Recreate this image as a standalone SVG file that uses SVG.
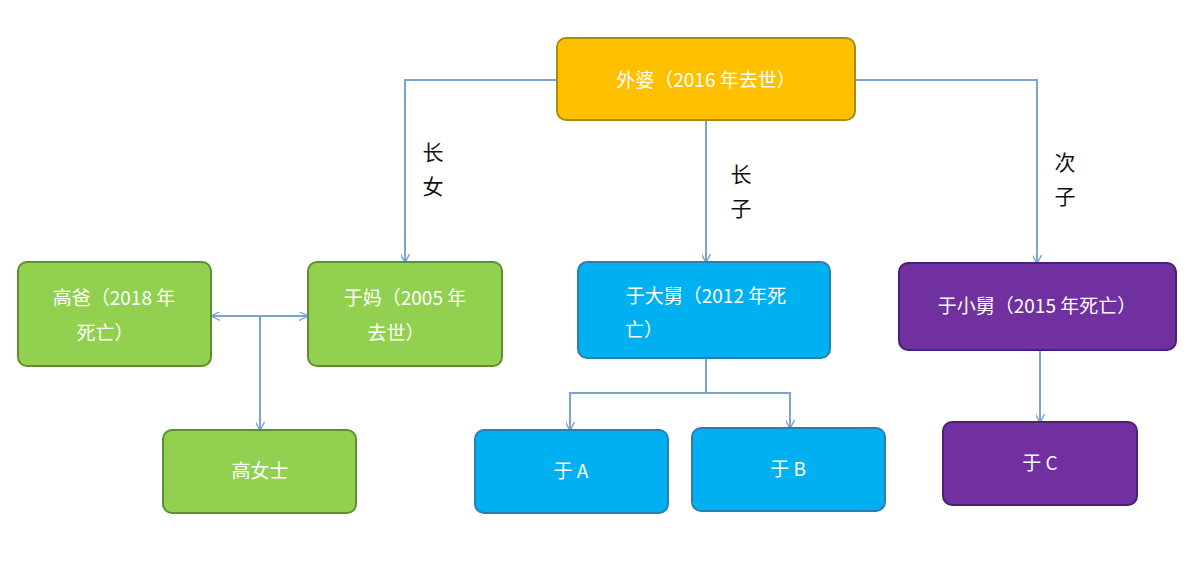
<svg xmlns="http://www.w3.org/2000/svg" width="1200" height="565" viewBox="0 0 1200 565">
<style>
.n{stroke-width:2}
.y{fill:#FFC000;stroke:#B08A10}
.g{fill:#92D050;stroke:#5E8F2E}
.b{fill:#00B0F0;stroke:#2A7FB0}
.p{fill:#7030A0;stroke:#4A2070}
text{font-family:"Noto Sans CJK SC","Liberation Sans",sans-serif;font-size:19px;text-anchor:middle;fill:#fff}
.l{fill:#111;font-size:21px}
.c path{fill:none;stroke:#7BA3D6;stroke-width:2}
</style>
<defs><marker id="a" viewBox="0 0 10 10" refX="9" refY="5" markerWidth="9" markerHeight="9" orient="auto-start-reverse" markerUnits="userSpaceOnUse"><path d="M0,0L10,5L0,10" fill="none" stroke="#7BA3D6" stroke-width="1.5"/></marker></defs>
<rect width="1200" height="565" fill="#fff"/>
<g class="c">
<path d="M557,80H405V262" marker-end="url(#a)"/>
<path d="M706,120V262" marker-end="url(#a)"/>
<path d="M855,80H1037V263" marker-end="url(#a)"/>
<path d="M212,316H307" marker-start="url(#a)" marker-end="url(#a)"/>
<path d="M260,316V430" marker-end="url(#a)"/>
<path d="M706,358V393H570V430" marker-end="url(#a)"/>
<path d="M706,393H790V428" marker-end="url(#a)"/>
<path d="M1040,350V422" marker-end="url(#a)"/>
</g>
<text class="l" x="433" y="160">长</text><text class="l" x="433" y="194">女</text>
<text class="l" x="741" y="182">长</text><text class="l" x="741" y="216">子</text>
<text class="l" x="1065" y="170">次</text><text class="l" x="1065" y="204">子</text>
<g id="waipo"><rect class="n y" x="557" y="38" width="298" height="82" rx="9"/><text x="706" y="87">外婆（2016 年去世）</text></g>
<g id="gaoba"><rect class="n g" x="18" y="262" width="193" height="104" rx="9"/><text x="114" y="305">高爸（2018 年</text><text x="105" y="340">死亡）</text></g>
<g id="yuma"><rect class="n g" x="308" y="262" width="194" height="104" rx="9"/><text x="405" y="305">于妈（2005 年</text><text x="396" y="340">去世）</text></g>
<g id="gaonvshi"><rect class="n g" x="163" y="430" width="193" height="83" rx="9"/><text x="260" y="478">高女士</text></g>
<g id="yudajiu"><rect class="n b" x="578" y="262" width="252" height="96" rx="9"/><text x="706" y="303">于大舅（2012 年死</text><text x="644" y="337">亡）</text></g>
<g id="yuA"><rect class="n b" x="475" y="430" width="193" height="83" rx="9"/><text x="571" y="478">于 A</text></g>
<g id="yuB"><rect class="n b" x="692" y="428" width="193" height="83" rx="9"/><text x="788" y="476">于 B</text></g>
<g id="yuxiaojiu"><rect class="n p" x="899" y="263" width="277" height="87" rx="9"/><text x="1037" y="313">于小舅（2015 年死亡）</text></g>
<g id="yuC"><rect class="n p" x="943" y="422" width="194" height="83" rx="9"/><text x="1040" y="470">于 C</text></g>
</svg>
